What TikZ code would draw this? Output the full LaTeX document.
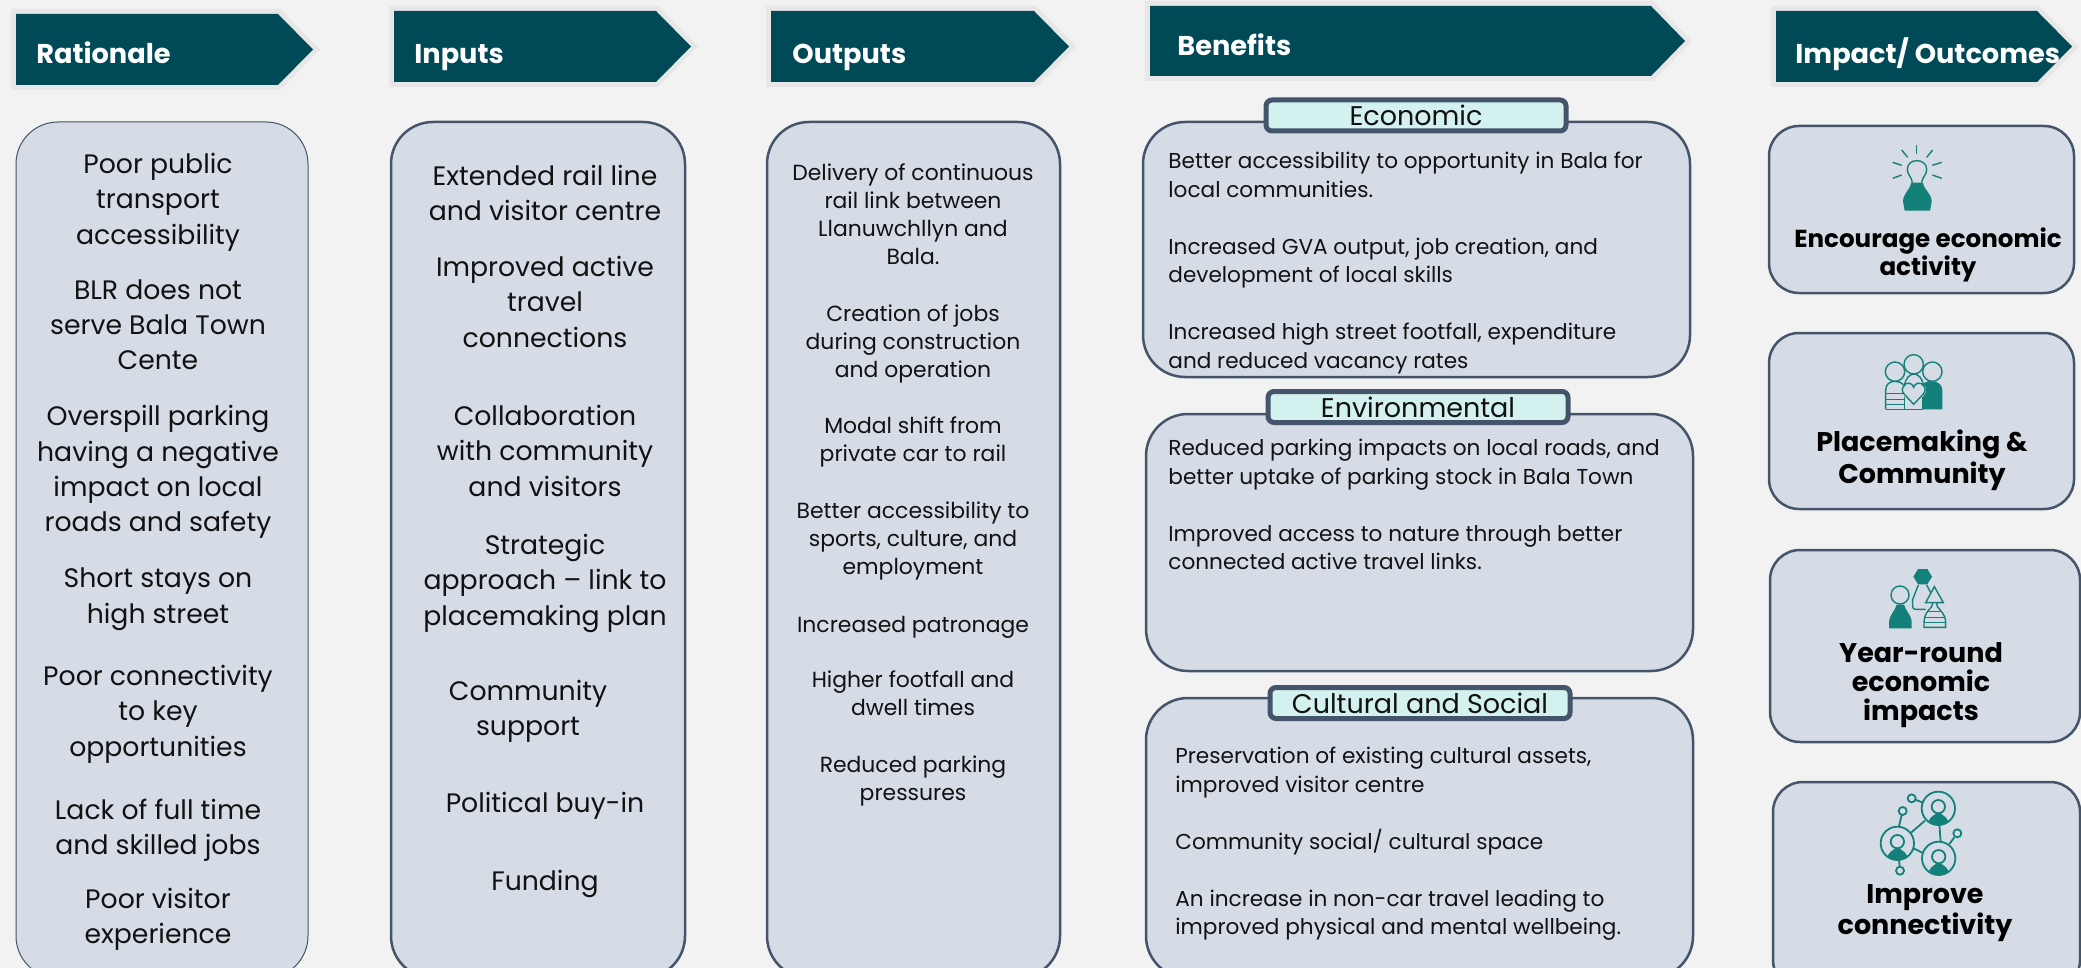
\documentclass[tikz,border=0pt]{standalone}
\usepackage{fontspec}
\setmainfont{Poppins}

\definecolor{pagegrey}{HTML}{F2F2F2}
\definecolor{headteal}{HTML}{004A57}
\definecolor{headhalo}{HTML}{E7E7E7}
\definecolor{panelblue}{HTML}{D6DCE5}
\definecolor{panelline}{HTML}{44546A}
\definecolor{tabmint}{HTML}{D3F1EF}
\definecolor{iconteal}{HTML}{14807A}
\definecolor{inktext}{HTML}{111111}

\tikzset{
  struts/.style={execute at begin node=\strut, execute at end node=\strut, yshift=-2.5pt},
  headarrow/.style={fill=headteal, preaction={draw=headhalo, line width=5pt}},
  headtext/.style={anchor=base west, inner sep=0pt, text=white, font=\fontsize{13.6}{16}\selectfont\bfseries},
  panel/.style={fill=panelblue, draw=panelline, line width=1.25pt, rounded corners=21pt},
  thinpanel/.style={panel, line width=0.5pt},
  impactpanel/.style={panel, rounded corners=15pt},
  tabbox/.style={fill=tabmint, draw=panelline, line width=2.5pt, rounded corners=3pt, inner sep=0pt,
    minimum width=150pt, minimum height=15.5pt, text=inktext, font=\fontsize{13.5}{15}\selectfont},
  bigtext/.style={struts, align=center, inner sep=0pt, text=inktext, font=\fontsize{13.35}{17.7}\selectfont},
  midtext/.style={struts, align=center, inner sep=0pt, text=inktext, font=\fontsize{10.95}{14}\selectfont},
  bodytext/.style={anchor=north west, align=left, inner sep=0pt, text=inktext, font=\fontsize{10.8}{14.25}\selectfont},
  impacttext/.style={struts, align=center, inner sep=0pt, text=black, font=\fontsize{\impactsize}{14.4}\selectfont\bfseries},
  iconline/.style={draw=iconteal, line width=0.7pt},
  iconfill/.style={fill=iconteal},
}

\begin{document}
\begin{tikzpicture}[x=0.5pt, y=-0.5pt]

\clip (0,0) rectangle (2081,968);
\fill[pagegrey] (0,0) rectangle (2081,968);

% Header arrows
\foreach \name/\xa/\xb/\xc/\ya/\yb/\tx/\ty/\txt in {
  rationale/16/278/313/14/85/36/63.5/Rationale,
  inputs/394/656/691/11/82/414/63.5/Inputs,
  outputs/771/1034/1069/11/82/792/63.5/Outputs,
  benefits/1150/1651/1685/6/76/1177/55.5/Benefits,
  impact/1776/2037/2072/11/82/1795/63.5/{Impact/ Outcomes}} {
  \fill[headarrow] (\xa,\ya) -- (\xb,\ya) -- (\xc,{(\ya+\yb)/2}) -- (\xb,\yb) -- (\xa,\yb) -- cycle;
  \node[headtext] (\name) at (\tx,\ty) {\txt};
}

% Panels
\draw[thinpanel] (16,122) rectangle (308,978);
\foreach \xa/\ya/\xb/\yb in {391/122/685/978, 767/122/1060/978,
  1143/122/1690/377, 1146/414/1693/671, 1146/698/1693/978} {
  \draw[panel] (\xa,\ya) rectangle (\xb,\yb);
}
\foreach \xa/\ya/\xb/\yb in {1769/126/2074/293, 1769/333/2074/509,
  1770/550/2080/742, 1773/782/2080/990} {
  \draw[impactpanel] (\xa,\ya) rectangle (\xb,\yb);
}

% Benefit tabs
\node[tabbox] (economic) at (1416,115.5) {Economic};
\node[tabbox] (environmental) at (1418,407) {Environmental};
\node[tabbox] (cultural) at (1420,703) {Cultural and Social};

% Rationale text
\foreach \name/\ypos/\txt in {
  ratA/199/{Poor public\\transport\\accessibility},
  ratB/325/{BLR does not\\serve Bala Town\\Cente},
  ratC/469/{Overspill parking\\having a negative\\impact on local\\roads and safety},
  ratD/596/{Short stays on\\high street},
  ratE/711/{Poor connectivity\\to key\\opportunities},
  ratF/827/{Lack of full time\\and skilled jobs},
  ratG/916/{Poor visitor\\experience}} {
  \node[bigtext] (\name) at (158,\ypos) {\txt};
}

% Inputs text
\foreach \name/\xpos/\ypos/\txt in {
  inpA/545/193/{Extended rail line\\and visitor centre},
  inpB/545/302/{Improved active\\travel\\connections},
  inpC/545/451/{Collaboration\\with community\\and visitors},
  inpD/545/580/{Strategic\\approach -- link to\\placemaking plan},
  inpE/528/708/{Community\\support},
  inpF/545/800/{Political buy-in},
  inpG/545/878/{Funding}} {
  \node[bigtext] (\name) at (\xpos,\ypos) {\txt};
}

% Outputs text
\foreach \name/\ypos/\txt in {
  outA/213/{Delivery of continuous\\rail link between\\Llanuwchllyn and\\Bala.},
  outB/340/{Creation of jobs\\during construction\\and operation},
  outC/438/{Modal shift from\\private car to rail},
  outD/537/{Better accessibility to\\sports, culture, and\\employment},
  outE/622/{Increased patronage},
  outF/692/{Higher footfall and\\dwell times},
  outG/777/{Reduced parking\\pressures}} {
  \node[midtext] (\name) at (913,\ypos) {\txt};
}

% Benefits text
\node[bodytext] (econtext) at (1168,152) {Better accessibility to opportunity in Bala for\\local communities.\\[\baselineskip]Increased GVA output, job creation, and\\development of local skills\\[\baselineskip]Increased high street footfall, expenditure\\and reduced vacancy rates};
\node[bodytext] (envtext) at (1168,439) {Reduced parking impacts on local roads, and\\better uptake of parking stock in Bala Town\\[\baselineskip]Improved access to nature through better\\connected active travel links.};
\node[bodytext] (cultext) at (1175,747) {Preservation of existing cultural assets,\\improved visitor centre\\[\baselineskip]Community social/ cultural space\\[\baselineskip]An increase in non-car travel leading to\\improved physical and mental wellbeing.};

% Impact text
\def\impactsize{12.3}
\node[impacttext] (impA) at (1928,251) {Encourage economic\\activity};
\def\impactsize{13.5}
\node[impacttext] (impB) at (1922,456) {Placemaking \&\\Community};
\node[impacttext] (impC) at (1921,681) {Year-round\\economic\\impacts};
\node[impacttext] (impD) at (1925,909) {Improve\\connectivity};

% Bulb icon
\begin{scope}[shift={(1750,0)}, scale=1/3]
  \foreach \ax/\ay/\bx/\by in {500/435/500/462, 455/450/473/472, 548/450/530/472, 428/487/455/496,
    575/487/547/496, 428/535/455/525, 575/535/547/525} {
    \draw[iconline] (\ax,\ay) -- (\bx,\by);
  }
  \draw[iconline] (487,548) .. controls (485,530) and (472,525) .. (472,508)
    .. controls (472,490) and (487,482) .. (500,482)
    .. controls (515,482) and (530,490) .. (530,508)
    .. controls (530,525) and (517,530) .. (515,548);
  \fill[iconfill] (484,548) -- (518,548) .. controls (522,570) and (545,580) .. (545,605)
    -- (540,632) -- (464,632) -- (459,605) .. controls (459,580) and (480,570) .. (484,548) -- cycle;
\end{scope}

% Community icon
\begin{scope}[shift={(1750,310)}, scale=1/3]
  \draw[iconline] (435,185) circle (29);
  \draw[iconline] (491,163) circle (29);
  \draw[iconline] (547,185) circle (29);
  \draw[iconline] (463,230) .. controls (465,205) and (480,192) .. (491,192)
    .. controls (505,192) and (518,205) .. (520,228);
  \draw[iconline] (407,298) -- (407,240) .. controls (407,222) and (420,214) .. (435,214)
    .. controls (445,214) and (455,218) .. (460,224);
  \draw[iconline] (407,298) -- (518,298);
  \draw[iconline] (463,298) -- (463,262);
  \draw[iconline] (518,298) -- (518,262);
  \foreach \sy in {250,268,283} {
    \draw[iconline] (407,\sy) -- (463,\sy);
  }
  \draw[iconline] (491,283) -- (462,252) .. controls (448,235) and (465,215) .. (480,220)
    .. controls (486,222) and (490,228) .. (491,232) .. controls (492,228) and (496,222) .. (502,220)
    .. controls (517,215) and (534,235) .. (520,252) -- cycle;
  \fill[iconfill] (518,298) -- (518,262) -- (526,250) .. controls (532,235) and (525,225) .. (518,222)
    .. controls (530,212) and (545,212) .. (552,214) .. controls (568,216) and (577,228) .. (577,242)
    -- (577,298) -- cycle;
\end{scope}

% Pawns icon
\begin{scope}[shift={(1750,310)}, scale=1/3]
  \fill[iconfill] (504,777) -- (532,777) -- (546,800) -- (532,823) -- (504,823) -- (490,800) -- cycle;
  \draw[iconline] (505,825) -- (488,868) -- (488,890) .. controls (488,896) and (492,898) .. (497,898) -- (527,898);
  \draw[iconline] (530,825) -- (542,848);
  \draw[iconline] (553,830) -- (527,878) -- (580,878) -- cycle;
  \draw[iconline] (548,878) -- (545,890) .. controls (535,900) and (522,915) .. (522,935)
    -- (522,952) -- (587,952) -- (587,935) .. controls (587,915) and (570,900) .. (562,890) -- (560,878);
  \foreach \sy/\sa/\sb in {905/532/577, 922/523/586, 937/522/587} {
    \draw[iconline] (\sa,\sy) -- (\sb,\sy);
  }
  \draw[iconline] (450,855) circle (27);
  \fill[iconfill] (440,884) -- (462,884) .. controls (465,900) and (485,915) .. (485,938)
    -- (485,955) -- (417,955) -- (417,938) .. controls (417,915) and (437,900) .. (440,884) -- cycle;
\end{scope}

% Network icon
\begin{scope}[shift={(1750,660)}, scale=1/3]
  \foreach \cx/\cy in {565/445, 442/550, 566/595} {
    \draw[iconline, line width=0.9pt] (\cx,\cy) circle (50);
    \draw[iconline, line width=0.9pt] ({\cx},{\cy-5}) circle (20);
    \begin{scope}
      \clip (\cx,\cy) circle (49);
      \fill[iconfill] ({\cx-36},{\cy+60}) .. controls ({\cx-30},{\cy+28}) and ({\cx-15},{\cy+17}) .. (\cx,{\cy+15})
        .. controls ({\cx+15},{\cy+17}) and ({\cx+30},{\cy+28}) .. ({\cx+36},{\cy+60}) -- cycle;
    \end{scope}
  }
  \foreach \cx/\cy in {485/415, 458/453, 622/520, 450/632} {
    \draw[iconline, line width=0.9pt] (\cx,\cy) circle (12);
  }
  \foreach \ax/\ay/\bx/\by in {525/482/483/518, 568/495/572/545, 490/565/517/578, 498/420/517/427,
    455/465/447/498, 613/532/598/552, 447/600/449/620} {
    \draw[iconline, line width=0.9pt] (\ax,\ay) -- (\bx,\by);
  }
\end{scope}

\end{tikzpicture}
\end{document}
